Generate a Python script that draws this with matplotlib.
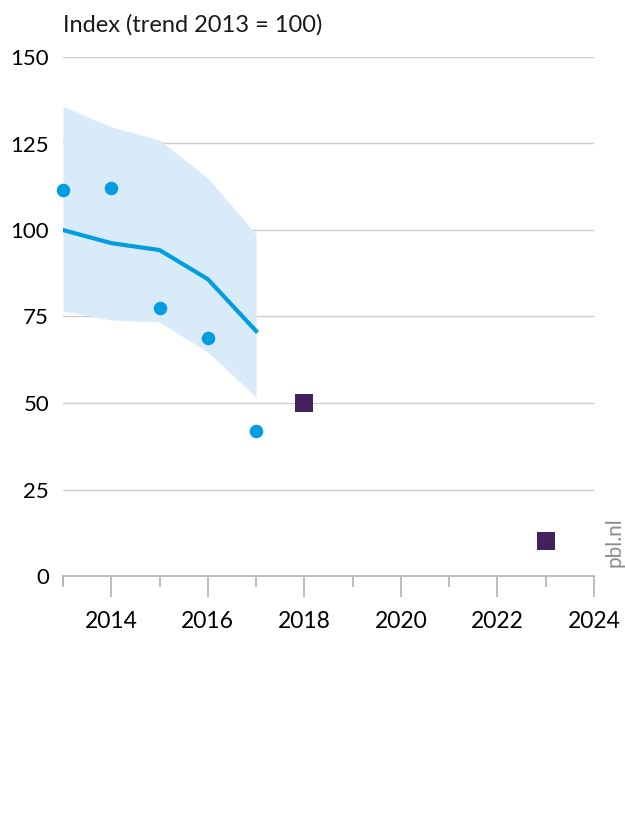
import matplotlib
matplotlib.use("Agg")
import matplotlib.pyplot as plt
from matplotlib.ticker import MultipleLocator

plt.rcParams['font.family'] = ['Lato', 'DejaVu Sans']

years = [2013, 2014, 2015, 2016, 2017]
observed = [111.6, 112.1, 77.5, 68.8, 41.9]
trend = [100.0, 96.2, 94.2, 85.8, 70.8]
band_upper = [135.8, 129.8, 126.0, 115.0, 98.8]
band_lower = [76.6, 74.0, 73.4, 64.7, 51.7]
target_years = [2018, 2023]
targets = [50.0, 10.0]
y_ticks = [0, 25, 50, 75, 100, 125, 150]
x_ticks = [2014, 2016, 2018, 2020, 2022, 2024]

fig = plt.figure(figsize=(6.25, 8.16), dpi=100)
ax = fig.add_axes([63/625, 240/816, (594-63)/625, (576-57)/816])

ax.fill_between(years, band_lower, band_upper, color='#d9ebf9', linewidth=0, zorder=1)
ax.plot(years, trend, color='#009ee0', linewidth=3, zorder=3, solid_joinstyle='miter')
ax.scatter(years, observed, s=95, color='#009ee0', zorder=4, linewidths=0, clip_on=False)
ax.scatter(target_years, targets, s=165, marker='s', color='#42215d', zorder=4, linewidths=0, clip_on=False)

ax.set_xlim(2013, 2024)
ax.set_ylim(0, 150)
ax.set_yticks(y_ticks)
ax.set_xticks(x_ticks)
ax.xaxis.set_minor_locator(MultipleLocator(1))
ax.grid(axis='y', color='#cccccc', linewidth=1, zorder=0)
ax.set_axisbelow(True)
for s in ['left', 'right', 'top']:
    ax.spines[s].set_visible(False)
ax.spines['bottom'].set_color('#b3b3b3')
ax.spines['bottom'].set_linewidth(1.2)
ax.spines['bottom'].set_zorder(0.5)
ax.tick_params(axis='y', length=0, pad=10, labelsize=16)
ax.tick_params(axis='x', which='major', length=15, width=1.2, color='#b3b3b3', pad=10, labelsize=16.5)
ax.tick_params(axis='x', which='minor', length=8, width=1.2, color='#b3b3b3')
ax.axvline(2013, ymin=-8/519, ymax=0, color='#b3b3b3', linewidth=1.2, clip_on=False)

fig.text(63/625, 1 - 25/816, 'Index (trend 2013 = 100)', fontsize=17, va='center', ha='left', color='#1a1a1a')
fig.text(614/625, 1 - 542/816, 'pbl.nl', rotation=90, fontsize=15, va='center', ha='center', color='#8c8c8c')

fig.savefig('out.png', dpi=100)
